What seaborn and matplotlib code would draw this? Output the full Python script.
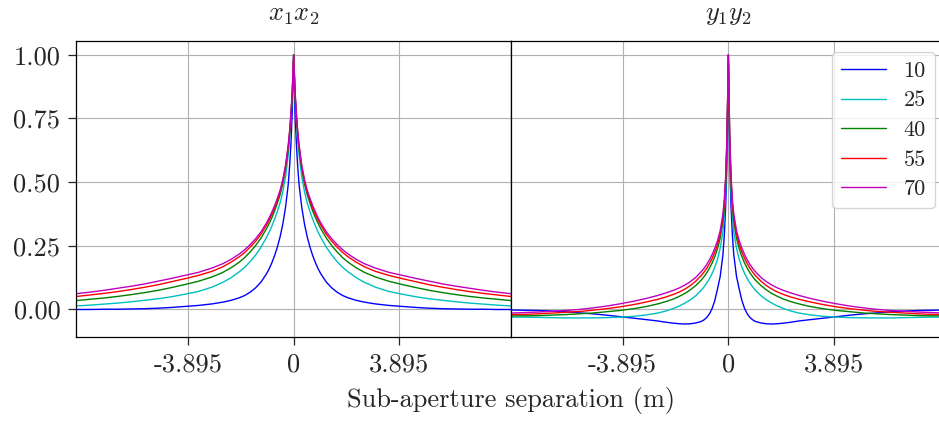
import numpy as np
import pandas as pd
import matplotlib
matplotlib.use("Agg")
import matplotlib.pyplot as plt
import seaborn as sns

# ---- data (curves are symmetric about 0) ----
outer_scales = [10, 25, 40, 55, 70]
line_colors = ["#0000ff", "#00bfbf", "#008000", "#ff0000", "#bf00bf"]

separation = [0.0, 0.05, 0.1, 0.15, 0.2, 0.3, 0.4, 0.5, 0.6, 0.7, 0.8, 0.9, 1.0,
              1.2, 1.4, 1.6, 1.8, 2.0, 2.3, 2.6, 3.0, 3.5, 4.0, 4.5, 5.0, 5.5,
              6.0, 6.5, 7.0, 7.5, 8.0, 8.2]

# x1x2 (longitudinal) correlation
xx_10 = [1.0, 0.78, 0.65, 0.56, 0.49, 0.40, 0.335, 0.285, 0.245, 0.212, 0.184, 0.160, 0.140,
         0.108, 0.085, 0.068, 0.055, 0.046, 0.036, 0.029, 0.022, 0.016, 0.012, 0.008, 0.005, 0.003,
         0.002, 0.001, 0.001, 0.0, 0.0, 0.0]
xx_25 = [1.0, 0.84, 0.74, 0.665, 0.605, 0.52, 0.462, 0.418, 0.385, 0.355, 0.328, 0.304, 0.283,
         0.245, 0.214, 0.188, 0.166, 0.148, 0.125, 0.107, 0.088, 0.071, 0.060, 0.050, 0.042, 0.036,
         0.030, 0.025, 0.021, 0.017, 0.014, 0.013]
xx_40 = [1.0, 0.85, 0.755, 0.685, 0.63, 0.55, 0.493, 0.45, 0.417, 0.387, 0.361, 0.338, 0.317,
         0.281, 0.251, 0.226, 0.204, 0.186, 0.164, 0.146, 0.128, 0.111, 0.098, 0.086, 0.075, 0.066,
         0.058, 0.051, 0.045, 0.040, 0.035, 0.033]
xx_55 = [1.0, 0.855, 0.765, 0.695, 0.64, 0.56, 0.503, 0.46, 0.428, 0.399, 0.374, 0.351, 0.331,
         0.296, 0.268, 0.245, 0.224, 0.207, 0.186, 0.168, 0.150, 0.134, 0.121, 0.109, 0.097, 0.087,
         0.078, 0.070, 0.063, 0.057, 0.051, 0.049]
xx_70 = [1.0, 0.86, 0.77, 0.70, 0.645, 0.565, 0.51, 0.468, 0.437, 0.408, 0.383, 0.36, 0.34,
         0.305, 0.278, 0.255, 0.235, 0.218, 0.197, 0.180, 0.163, 0.146, 0.134, 0.122, 0.111, 0.100,
         0.091, 0.083, 0.075, 0.068, 0.062, 0.060]

# y1y2 (transverse) correlation
yy_10 = [1.0, 0.58, 0.40, 0.29, 0.215, 0.13, 0.08, 0.035, 0.003, -0.018, -0.032, -0.041, -0.047,
         -0.053, -0.056, -0.057, -0.056, -0.054, -0.050, -0.045, -0.040, -0.034, -0.028, -0.022,
         -0.017, -0.013, -0.009, -0.006, -0.004, -0.003, -0.002, -0.002]
yy_25 = [1.0, 0.63, 0.46, 0.365, 0.305, 0.24, 0.197, 0.166, 0.141, 0.120, 0.103, 0.088, 0.075,
         0.054, 0.038, 0.025, 0.014, 0.005, -0.006, -0.014, -0.021, -0.027, -0.030, -0.032,
         -0.033, -0.033, -0.033, -0.032, -0.031, -0.030, -0.030, -0.030]
yy_40 = [1.0, 0.66, 0.495, 0.40, 0.345, 0.28, 0.238, 0.207, 0.182, 0.161, 0.143, 0.128, 0.115,
         0.094, 0.077, 0.063, 0.052, 0.042, 0.031, 0.022, 0.012, 0.003, -0.004, -0.009,
         -0.014, -0.017, -0.020, -0.022, -0.024, -0.025, -0.025, -0.025]
yy_55 = [1.0, 0.67, 0.51, 0.415, 0.36, 0.295, 0.255, 0.225, 0.20, 0.179, 0.161, 0.146, 0.133,
         0.111, 0.094, 0.080, 0.069, 0.060, 0.049, 0.040, 0.030, 0.019, 0.010, 0.003,
         -0.003, -0.008, -0.011, -0.014, -0.017, -0.019, -0.020, -0.021]
yy_70 = [1.0, 0.68, 0.52, 0.43, 0.375, 0.31, 0.27, 0.24, 0.215, 0.194, 0.176, 0.161, 0.148,
         0.126, 0.109, 0.096, 0.085, 0.076, 0.065, 0.055, 0.044, 0.032, 0.022, 0.013,
         0.006, 0.000, -0.004, -0.007, -0.010, -0.012, -0.014, -0.014]

panel_titles = [r"$x_1x_2$", r"$y_1y_2$"]
tick_positions = [-3.895, 0.0, 3.895]
tick_labels = ["-3.895", "0", "3.895"]
ytick_positions = [0.0, 0.25, 0.5, 0.75, 1.0]
xlabel_text = "Sub-aperture separation (m)"

# ---- build long tables (mirror the half-profiles) ----
def build(series_list):
    rows = []
    sep = np.array(separation)
    full_x = np.concatenate([-sep[::-1], sep[1:]])
    for L0, vals in zip(outer_scales, series_list):
        v = np.array(vals)
        full_v = np.concatenate([v[::-1], v[1:]])
        for a, b in zip(full_x, full_v):
            rows.append({"sep": a, "corr": b, "L0": str(L0)})
    return pd.DataFrame(rows)

df_x = build([xx_10, xx_25, xx_40, xx_55, xx_70])
df_y = build([yy_10, yy_25, yy_40, yy_55, yy_70])

# ---- style ----
sns.set_style("ticks")
plt.rcParams["font.family"] = ["cmr10", "DejaVu Serif"]
plt.rcParams["mathtext.fontset"] = "cm"
plt.rcParams["axes.formatter.use_mathtext"] = True
plt.rcParams["axes.edgecolor"] = "black"
plt.rcParams["axes.linewidth"] = 0.9

fig = plt.figure(figsize=(9.39, 4.21), dpi=100)
W, H = 939.0, 421.0
left1, left2, right_w = 76.3, 511.0, 434.7
top, bottom = 41.3, 337.0
ax1 = fig.add_axes([left1 / W, (H - bottom) / H, right_w / W, (bottom - top) / H])
ax2 = fig.add_axes([left2 / W, (H - bottom) / H, right_w / W, (bottom - top) / H], sharey=ax1)

palette = dict(zip([str(s) for s in outer_scales], line_colors))
hue_order = [str(s) for s in outer_scales]

sns.lineplot(data=df_x, x="sep", y="corr", hue="L0", hue_order=hue_order,
             palette=palette, estimator=None, sort=True, lw=1.0, ax=ax1, legend=False)
sns.lineplot(data=df_y, x="sep", y="corr", hue="L0", hue_order=hue_order,
             palette=palette, estimator=None, sort=True, lw=1.0, ax=ax2, legend=True)

fs = 19
for ax, title in zip([ax1, ax2], panel_titles):
    ax.set_xlim(-8.0, 8.0)
    ax.set_ylim(-0.108, 1.053)
    ax.set_xticks(tick_positions)
    ax.set_xticklabels(tick_labels, fontsize=fs)
    ax.grid(True, color="#b0b0b0", lw=0.8)
    ax.set_axisbelow(True)
    ax.set_title(title, fontsize=fs, pad=15)
    ax.set_xlabel("")
    ax.set_ylabel("")
    for s in ax.spines.values():
        s.set_visible(True)
        s.set_color("black")
    ax.tick_params(axis="both", direction="out", length=5.5, width=0.9, pad=6, labelsize=fs)

ax1.set_yticks(ytick_positions)
ax1.set_yticklabels([f"{v:.2f}" for v in ytick_positions], fontsize=fs)
ax2.tick_params(axis="y", left=False, labelleft=False)

leg = ax2.legend(loc="upper right", fontsize=16, frameon=True, fancybox=True,
                 framealpha=0.8, edgecolor="#cccccc", borderaxespad=0.5,
                 handlelength=2.0, labelspacing=0.45)
leg.set_title(None)

fig.text(511.0 / W, 1 - 401.0 / H, xlabel_text, ha="center", va="center", fontsize=fs)

fig.savefig("out.png", dpi=100)
